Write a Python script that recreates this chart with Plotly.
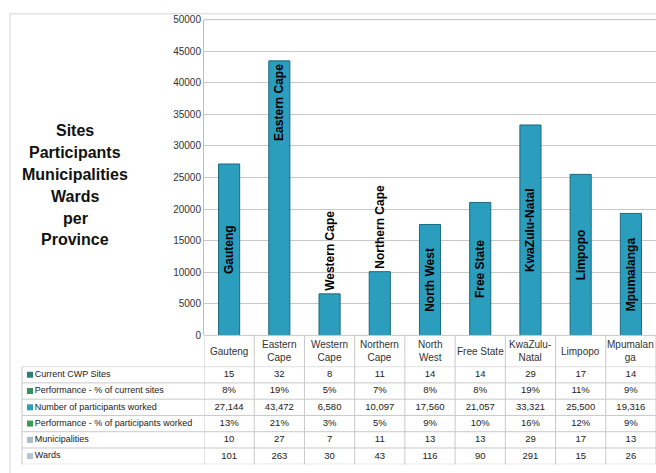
import plotly.graph_objects as go

provinces = ["Gauteng", "Eastern Cape", "Western Cape", "Northern Cape", "North West",
             "Free State", "KwaZulu-Natal", "Limpopo", "Mpumalanga"]
header_labels = ["Gauteng", "Eastern<br>Cape", "Western<br>Cape", "Northern<br>Cape", "North<br>West",
                 "Free State", "KwaZulu-<br>Natal", "Limpopo", "Mpumalan<br>ga"]
current_sites = [15, 32, 8, 11, 14, 14, 29, 17, 14]
perf_sites = ["8%", "19%", "5%", "7%", "8%", "8%", "19%", "11%", "9%"]
participants = [27144, 43472, 6580, 10097, 17560, 21057, 33321, 25500, 19316]
perf_participants = ["13%", "21%", "3%", "5%", "9%", "10%", "16%", "12%", "9%"]
municipalities = [10, 27, 7, 11, 13, 13, 29, 17, 13]
wards = [101, 263, 30, 43, 116, 90, 291, 15, 26]

row_names = ["Current CWP Sites", "Performance - % of current sites", "Number of participants worked",
             "Performance - % of participants worked", "Municipalities", "Wards"]
key_colors = ["#2f7f74", "#3b8f5e", "#2b9fb8", "#3f9a5a", "#a9bcc8", "#b8c4cc"]
y_ticks = list(range(0, 50001, 5000))
title_lines = ["Sites", "Participants", "Municipalities", "Wards", "per", "Province"]

# label placement: labels outside the short bars
label_pos = ["inside", "inside", "outside", "outside", "inside", "inside", "inside", "inside", "inside"]
top_anchored = ["Eastern Cape"]

BAR = "#2b9dbd"
EDGE = "#1b6a80"
FONT = "Liberation Sans"
W, H = 656, 473
PLOT_LEFT, PLOT_TOP, TABLE_TOP, TABLE_LEFT = 204, 14, 338, 22
HEADER_H, ROW_H = 32, 16.7
GRID = "#c9c9c9"

n_rows = len(row_names)
n_cols = len(provinces)
rows_top = TABLE_TOP + HEADER_H
rows_bottom = rows_top + ROW_H * n_rows
py = lambda pix: (H - pix) / H  # pixel row -> paper fraction

y_main = [None if p in top_anchored else v for p, v in zip(provinces, participants)]
y_top = [v if p in top_anchored else None for p, v in zip(provinces, participants)]
t_main = [None if p in top_anchored else p for p in provinces]
t_top = [p if p in top_anchored else None for p in provinces]

fig = go.Figure()
for yy, tt, anchor in [(y_main, t_main, "middle"), (y_top, t_top, "end")]:
    fig.add_trace(go.Bar(
        x=provinces, y=yy, text=tt, textposition=label_pos,
        textangle=-90, insidetextanchor=anchor, constraintext="none",
        textfont=dict(family=FONT, size=12, color="black", weight="bold"),
        marker=dict(color=BAR, line=dict(color=EDGE, width=1)),
        width=0.42, cliponaxis=False, showlegend=False, hoverinfo="skip",
    ))

fmt = lambda v: f"{v:,}"
row_values = [
    [str(v) for v in current_sites],
    perf_sites,
    [fmt(v) for v in participants],
    perf_participants,
    [str(v) for v in municipalities],
    [str(v) for v in wards],
]
for name, vals in zip(row_names, row_values):
    fig.add_trace(go.Scatter(
        x=provinces, y=[name] * n_cols, text=vals, mode="text", yaxis="y2",
        textposition="middle center", cliponaxis=False,
        textfont=dict(family=FONT, size=9.5, color="#222222"),
        showlegend=False, hoverinfo="skip",
    ))

# row labels with legend-key squares
fig.add_trace(go.Scatter(
    x=[0] * n_rows, y=row_names, text=row_names, mode="markers+text",
    xaxis="x2", yaxis="y2", textposition="middle right", cliponaxis=False,
    marker=dict(symbol="square", size=6, color=key_colors, line=dict(width=0)),
    textfont=dict(family=FONT, size=9, color="#222222"),
    showlegend=False, hoverinfo="skip",
))

# category names in the table header row
for p, lab in zip(provinces, header_labels):
    fig.add_annotation(text=lab, xref="x", x=p, yref="paper",
                       y=py(TABLE_TOP + HEADER_H / 2), showarrow=False,
                       xanchor="center", yanchor="middle", align="center",
                       font=dict(family=FONT, size=10, color="#333333"))

# table grid lines
line_style = dict(color=GRID, width=1)
for k in range(n_rows + 1):  # row boundaries across full table width
    fig.add_shape(type="line", xref="paper", yref="y2", x0=TABLE_LEFT / W, x1=1,
                  y0=k - 0.5, y1=k - 0.5, line=line_style)
fig.add_shape(type="line", xref="paper", yref="paper", x0=PLOT_LEFT / W, x1=1,
              y0=py(TABLE_TOP), y1=py(TABLE_TOP), line=line_style)
for j in range(n_cols + 1):  # column boundaries through header and rows
    fig.add_shape(type="line", xref="x", yref="paper", x0=j - 0.5, x1=j - 0.5,
                  y0=py(rows_bottom), y1=py(TABLE_TOP), line=line_style)
fig.add_shape(type="line", xref="paper", yref="paper", x0=TABLE_LEFT / W, x1=TABLE_LEFT / W,
              y0=py(rows_bottom), y1=py(rows_top), line=line_style)

fig.update_layout(
    width=W, height=H, margin=dict(l=0, r=0, t=0, b=0),
    paper_bgcolor="white", plot_bgcolor="rgba(0,0,0,0)", barmode="overlay",
    xaxis=dict(domain=[PLOT_LEFT / W, 1], range=[-0.5, 8.5], showticklabels=False,
               showgrid=False, zeroline=False, showline=False, fixedrange=True),
    yaxis=dict(domain=[py(TABLE_TOP), py(PLOT_TOP)], range=[0, 50000],
               tickvals=y_ticks, ticktext=[str(v) for v in y_ticks],
               tickfont=dict(family=FONT, size=10, color="#333333"),
               showgrid=True, gridcolor="#c8c8c8", gridwidth=1, zeroline=False,
               showline=True, linecolor="#bdbdbd", mirror=False, ticks="", ticklen=0),
    xaxis2=dict(domain=[(TABLE_LEFT + 4) / W, (TABLE_LEFT + 12) / W], range=[-1, 1],
                visible=False, fixedrange=True),
    yaxis2=dict(domain=[py(rows_bottom), py(rows_top)],
                type="category", categoryorder="array", categoryarray=row_names,
                range=[n_rows - 0.5, -0.5], visible=False, fixedrange=True, anchor="x"),
    font=dict(family=FONT),
)
# outer chart border
fig.add_shape(type="rect", xref="paper", yref="paper", x0=10 / W, x1=1.02, y0=-0.02,
              y1=py(8), line=dict(color="#d4d4d4", width=1), layer="below")
# top line of plot area
fig.add_shape(type="line", xref="paper", yref="paper", x0=PLOT_LEFT / W, x1=1,
              y0=py(PLOT_TOP), y1=py(PLOT_TOP), line=dict(color="#c0c0c0", width=1))

for i, line in enumerate(title_lines):
    fig.add_annotation(text=line, xref="paper", yref="paper",
                       x=75 / W, y=py(128 + 22.4 * i), showarrow=False,
                       xanchor="center", yanchor="middle",
                       font=dict(family=FONT, size=16, color="#111111", weight="bold"))

fig.write_html("out.html")
